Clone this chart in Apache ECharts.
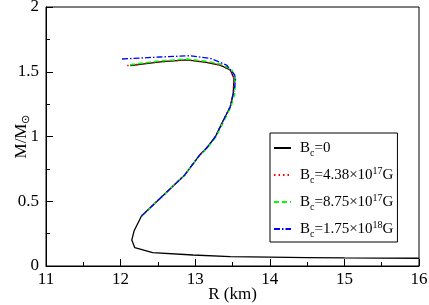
<!DOCTYPE html>
<html><head><meta charset="utf-8">
<script src="https://cdn.jsdelivr.net/npm/echarts@6/dist/echarts.min.js"></script>
<style>html,body{margin:0;padding:0;background:#fff}#c{width:429px;height:305px}</style>
</head><body><div id="c"></div>
<script>
// Bc = 0
var R0 = [16.0, 15.0, 14.5, 14.0, 13.47, 12.97, 12.43, 12.19, 12.15, 12.18, 12.28, 12.86, 13.06, 13.15, 13.27, 13.38, 13.47, 13.51, 13.52, 13.47, 13.33, 13.15, 12.89, 12.53, 12.13];
var M0 = [0.06, 0.062, 0.065, 0.068, 0.072, 0.085, 0.103, 0.141, 0.20, 0.27, 0.386, 0.703, 0.857, 0.909, 0.998, 1.127, 1.23, 1.334, 1.449, 1.514, 1.552, 1.573, 1.591, 1.577, 1.547];
// Bc = 4.38e17 G
var R1 = [12.28, 12.86, 13.06, 13.15, 13.27, 13.38, 13.47, 13.51, 13.52, 13.47, 13.33, 13.15, 12.89, 12.53, 12.08];
var M1 = [0.386, 0.703, 0.857, 0.909, 0.998, 1.127, 1.23, 1.334, 1.449, 1.514, 1.552, 1.573, 1.591, 1.577, 1.547];
// Bc = 8.75e17 G
var R2 = [12.28, 12.86, 13.06, 13.16, 13.28, 13.39, 13.48, 13.53, 13.54, 13.49, 13.35, 13.16, 12.89, 12.53, 12.10];
var M2 = [0.386, 0.703, 0.857, 0.909, 0.998, 1.127, 1.23, 1.334, 1.449, 1.518, 1.558, 1.580, 1.598, 1.584, 1.553];
// Bc = 1.75e18 G
var R3 = [12.28, 12.86, 13.06, 13.15, 13.27, 13.38, 13.47, 13.49, 13.53, 13.54, 13.53, 13.42, 13.2, 12.93, 12.53, 12.01];
var M3 = [0.386, 0.703, 0.857, 0.909, 0.998, 1.127, 1.23, 1.28, 1.385, 1.436, 1.475, 1.552, 1.604, 1.624, 1.614, 1.598];

var names = ['B0', 'B1', 'B2', 'B3'];
var legendText = {
  B0: '{n|B}{s|c}{n|=0}',
  B1: '{n|B}{s|c}{n|=4.38\u00d710}{p|17}{n|G}',
  B2: '{n|B}{s|c}{n|=8.75\u00d710}{p|17}{n|G}',
  B3: '{n|B}{s|c}{n|=1.75\u00d710}{p|18}{n|G}'
};
var xTicks = [11, 16, 1];
var yTicks = [0, 2, 0.5];

function zip(a, b) { return a.map(function (v, i) { return [v, b[i]]; }); }
var FONT = 'Liberation Serif, Times New Roman, serif';

var chart = echarts.init(document.getElementById('c'), null, {renderer: 'canvas'});
chart.setOption({
  animation: false,
  backgroundColor: '#fff',
  textStyle: {fontFamily: FONT},
  grid: {left: 46, right: 10, top: 7, bottom: 39, outerBoundsMode: 'none', containLabel: false,
         show: true, borderColor: '#000', borderWidth: 1, backgroundColor: 'transparent'},
  xAxis: {
    type: 'value', min: xTicks[0], max: xTicks[1], interval: xTicks[2],
    name: 'R (km)', nameLocation: 'middle', nameGap: 20, nameMoveOverlap: false,
    nameTextStyle: {fontFamily: FONT, fontSize: 17, color: '#000'},
    axisLine: {show: true, lineStyle: {color: '#000', width: 1}},
    axisTick: {show: true, inside: true, length: 7, lineStyle: {color: '#000'}},
    minorTick: {show: true, splitNumber: 2, length: 4, lineStyle: {color: '#000'}},
    splitLine: {show: false},
    axisLabel: {fontFamily: FONT, fontSize: 17, color: '#000', margin: 5}
  },
  yAxis: {
    type: 'value', min: yTicks[0], max: yTicks[1], interval: yTicks[2],
    name: '{a|M/M}{s|\u2299}', nameLocation: 'middle', nameGap: 14, nameRotate: 90, nameMoveOverlap: false,
    nameTextStyle: {fontFamily: FONT, fontSize: 17, color: '#000',
      rich: {a: {fontFamily: FONT, fontSize: 17, color: '#000'},
             s: {fontFamily: FONT, fontSize: 11, color: '#000', padding: [9, 0, 0, 0]}}},
    axisLine: {show: true, lineStyle: {color: '#000', width: 1}},
    axisTick: {show: true, inside: true, length: 7, lineStyle: {color: '#000'}},
    minorTick: {show: true, splitNumber: 2, length: 4, lineStyle: {color: '#000'}},
    splitLine: {show: false},
    axisLabel: {fontFamily: FONT, fontSize: 17, color: '#000', margin: 7}
  },
  legend: {
    orient: 'vertical', left: 270, top: 133,
    data: names,
    backgroundColor: '#fff', borderColor: '#000', borderWidth: 1,
    padding: [5, 4, 3, 3],
    itemWidth: 17, itemHeight: 12, itemGap: 7,
    itemStyle: {opacity: 0},
    formatter: function (n) { return legendText[n]; },
    textStyle: {
      fontFamily: FONT, fontSize: 15, color: '#000', padding: [0, 0, 0, 4],
      rich: {
        n: {fontFamily: FONT, fontSize: 15, color: '#000', lineHeight: 18},
        s: {fontFamily: FONT, fontSize: 10, color: '#000', padding: [10, 0, 0, 0], lineHeight: 18},
        p: {fontFamily: FONT, fontSize: 10, color: '#000', padding: [0, 0, 8, 0], lineHeight: 18}
      }
    }
  },
  series: [
    {name: 'B0', type: 'line', data: zip(R0, M0), symbol: 'none', z: 2,
     lineStyle: {color: '#000', width: 1.3, type: 'solid'}, itemStyle: {color: '#000'}},
    {name: 'B1', type: 'line', data: zip(R1, M1), symbol: 'none', z: 3,
     lineStyle: {color: '#ff0000', width: 1.5, type: [1.5, 3]}, itemStyle: {color: '#ff0000'}},
    {name: 'B2', type: 'line', data: zip(R2, M2), symbol: 'none', z: 4,
     lineStyle: {color: '#00ff00', width: 1.5, type: [5, 3]}, itemStyle: {color: '#00ff00'}},
    {name: 'B3', type: 'line', data: zip(R3, M3), symbol: 'none', z: 5,
     lineStyle: {color: '#0000ff', width: 1.3, type: [6, 2, 1.5, 2]}, itemStyle: {color: '#0000ff'}}
  ]
});
</script></body></html>
